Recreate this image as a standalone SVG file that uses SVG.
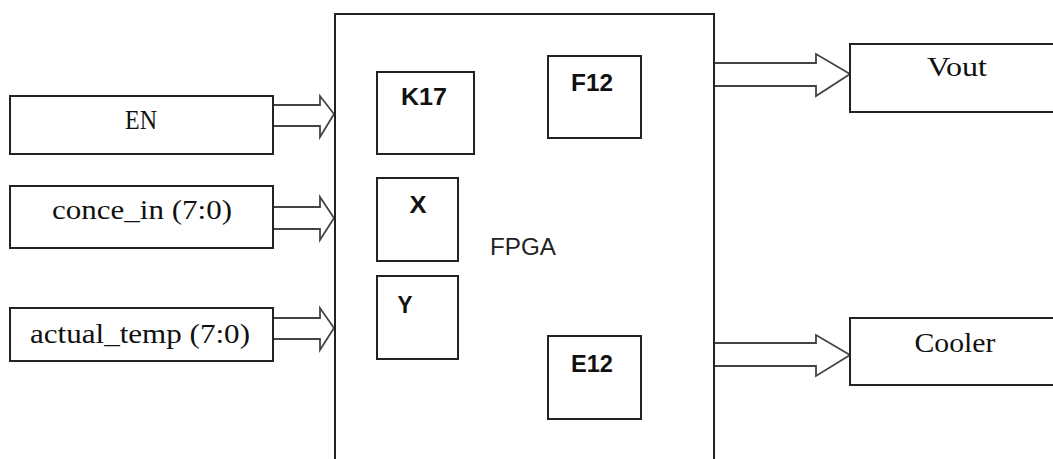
<svg xmlns="http://www.w3.org/2000/svg" width="1053" height="459" viewBox="0 0 1053 459">
<style>
.box{fill:#fff;stroke:#222;stroke-width:2}
.arr{fill:#fff;stroke:#444;stroke-width:1.8;stroke-linejoin:miter}
.serif{font-family:"Liberation Serif","Times New Roman",serif;font-size:27px;fill:#111}
.pin{font-family:"Liberation Sans",Arial,sans-serif;font-size:23px;font-weight:bold;fill:#111}
.lbl{font-family:"Liberation Sans",Arial,sans-serif;font-size:23px;fill:#222}
</style>
<rect width="1053" height="459" fill="#fff"/>
<g id="connectors">
<polygon class="arr" points="273,105 320,105 320,96 334,114 320,137 320,126 273,126"/>
<polygon class="arr" points="273,207 320,207 320,197 334,218 320,240 320,229 273,229"/>
<polygon class="arr" points="273,318 320,318 320,308 334,328 320,350 320,339 273,339"/>
<polygon class="arr" points="713,63 816,63 816,54 850,74 816,96 816,86 713,86"/>
<polygon class="arr" points="713,343 816,343 816,335 850,355 816,376 816,366 713,366"/>
</g>
<g id="fpga">
<path class="box" d="M335,470 V14 H714 V470"/>
<text class="lbl" x="490" y="255" textLength="66" lengthAdjust="spacingAndGlyphs">FPGA</text>
</g>
<g id="en"><rect class="box" x="10" y="96" width="263" height="58"/><text class="serif" x="141" y="129" text-anchor="middle" textLength="32" lengthAdjust="spacingAndGlyphs">EN</text></g>
<g id="conce_in"><rect class="box" x="10" y="186" width="263" height="62"/><text class="serif" x="142" y="219" text-anchor="middle" textLength="180" lengthAdjust="spacingAndGlyphs">conce_in (7:0)</text></g>
<g id="actual_temp"><rect class="box" x="10" y="308" width="263" height="53"/><text class="serif" x="140" y="343" text-anchor="middle" textLength="220" lengthAdjust="spacingAndGlyphs">actual_temp (7:0)</text></g>
<g id="k17"><rect class="box" x="377" y="72" width="97" height="82"/><text class="pin" x="424" y="105" text-anchor="middle" textLength="46" lengthAdjust="spacingAndGlyphs">K17</text></g>
<g id="f12"><rect class="box" x="548" y="56" width="93" height="82"/><text class="pin" x="592" y="91" text-anchor="middle" textLength="42" lengthAdjust="spacingAndGlyphs">F12</text></g>
<g id="x"><rect class="box" x="377" y="178" width="81" height="83"/><text class="pin" x="418" y="213" text-anchor="middle" textLength="17" lengthAdjust="spacingAndGlyphs">X</text></g>
<g id="y"><rect class="box" x="377" y="276" width="81" height="83"/><text class="pin" x="405" y="313" text-anchor="middle" textLength="15" lengthAdjust="spacingAndGlyphs">Y</text></g>
<g id="e12"><rect class="box" x="548" y="336" width="93" height="83"/><text class="pin" x="592" y="372" text-anchor="middle" textLength="42" lengthAdjust="spacingAndGlyphs">E12</text></g>
<g id="vout"><rect class="box" x="850" y="44" width="210" height="68"/><text class="serif" x="957" y="76" text-anchor="middle" textLength="60" lengthAdjust="spacingAndGlyphs">Vout</text></g>
<g id="cooler"><rect class="box" x="850" y="318" width="210" height="67"/><text class="serif" x="955" y="352" text-anchor="middle" textLength="81" lengthAdjust="spacingAndGlyphs">Cooler</text></g>
</svg>
